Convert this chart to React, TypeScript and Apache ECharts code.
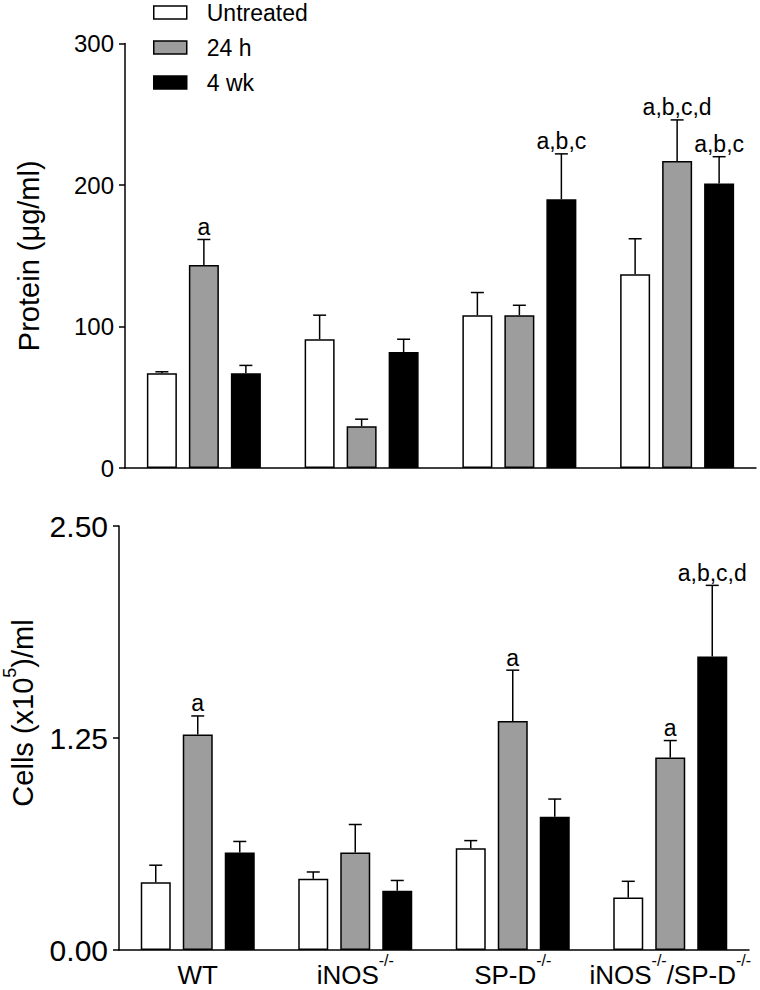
import React, { useEffect, useRef } from "react";
import * as echarts from "echarts";

const categories = ["WT", "iNOS-/-", "SP-D-/-", "iNOS-/-/SP-D-/-"];
const seriesNames = ["Untreated", "24 h", "4 wk"];

const proteinUntreated = [67, 91, 108, 137];
const proteinUntreatedErr = [1, 17, 16, 25];
const protein24h = [143.5, 29.5, 108, 217];
const protein24hErr = [18, 5, 7, 29];
const protein4wk = [67, 82, 190, 201];
const protein4wkErr = [5.5, 9, 32, 19];

const cellsUntreated = [0.4, 0.42, 0.6, 0.31];
const cellsUntreatedErr = [0.1, 0.04, 0.045, 0.095];
const cells24h = [1.27, 0.575, 1.35, 1.135];
const cells24hErr = [0.11, 0.165, 0.3, 0.1];
const cells4wk = [0.575, 0.35, 0.785, 1.73];
const cells4wkErr = [0.065, 0.06, 0.105, 0.42];

const proteinAnnotUntreated = ["", "", "", ""];
const proteinAnnot24h = ["a", "", "", "a,b,c,d"];
const proteinAnnot4wk = ["", "", "a,b,c", "a,b,c"];
const cellsAnnotUntreated = ["", "", "", ""];
const cellsAnnot24h = ["a", "", "a", "a"];
const cellsAnnot4wk = ["", "", "", "a,b,c,d"];

const proteinTicks = { min: 0, max: 300, interval: 100 };
const cellsTicks = { min: 0, max: 2.5, interval: 1.25 };

const FONT = "Liberation Sans";
const colors = ["#ffffff", "#9d9d9d", "#000000"];
const offsets = [-42, 0, 42];

function barSeries(name: string, vals: number[], idx: number, axis: number) {
  return {
    type: "bar",
    name,
    xAxisIndex: axis,
    yAxisIndex: axis,
    data: vals,
    barWidth: 30,
    barGap: "40%",
    itemStyle: { color: colors[idx], borderColor: "#000", borderWidth: 1.5 },
    silent: true,
  };
}

function errSeries(vals: number[], errs: number[], annots: string[], idx: number, axis: number) {
  return {
    type: "custom",
    xAxisIndex: axis,
    yAxisIndex: axis,
    silent: true,
    z: 5,
    data: vals.map((v, i) => [i, v, errs[i]]),
    encode: { x: 0, y: 1 },
    renderItem: (params: any, api: any) => {
      const i = api.value(0);
      const v = api.value(1);
      const e = api.value(2);
      const p0 = api.coord([i, v]);
      const p1 = api.coord([i, v + e]);
      const x = p0[0] + offsets[idx];
      const children: any[] = [
        { type: "line", shape: { x1: x, y1: p0[1], x2: x, y2: p1[1] }, style: { stroke: "#000", lineWidth: 1.5 } },
        { type: "line", shape: { x1: x - 6.5, y1: p1[1], x2: x + 6.5, y2: p1[1] }, style: { stroke: "#000", lineWidth: 1.5 } },
      ];
      const t = annots[params.dataIndex];
      if (t) {
        children.push({
          type: "text",
          style: {
            text: t,
            x,
            y: p1[1] - 1,
            align: "center",
            verticalAlign: "bottom",
            fontSize: 23,
            fontFamily: FONT,
            fill: "#000",
          },
        });
      }
      return { type: "group", children };
    },
  };
}

function yAxis(ticks: any, axisName: string, gridIndex: number, fontSize: number, nameGap: number, formatter: any, nameStyleExtra: any) {
  return {
    type: "value",
    gridIndex,
    min: ticks.min,
    max: ticks.max,
    interval: ticks.interval,
    name: axisName,
    nameLocation: "middle",
    nameGap,
    nameTextStyle: { fontSize: 29, fontFamily: FONT, color: "#000", ...nameStyleExtra },
    axisLine: { show: true, lineStyle: { color: "#000", width: 1.5 } },
    axisTick: { show: true, length: 6, lineStyle: { color: "#000", width: 1.5 } },
    axisLabel: { fontSize, fontFamily: FONT, color: "#000", margin: 11, formatter },
    splitLine: { show: false },
  };
}

export default function App() {
  const ref = useRef<HTMLDivElement>(null);
  useEffect(() => {
    document.body.style.margin = "0";
    const chart = echarts.init(ref.current!, null, { renderer: "svg" });
    const option: any = {
      animation: false,
      backgroundColor: "#fff",
      textStyle: { fontFamily: FONT },
      legend: {
        data: seriesNames,
        orient: "vertical",
        left: 153,
        top: 1,
        padding: 0,
        itemWidth: 33,
        itemHeight: 13,
        itemGap: 12,
        icon: "rect",
        selectedMode: false,
        textStyle: { fontSize: 23, fontFamily: FONT, color: "#000", padding: [0, 0, 0, 15] },
        itemStyle: { borderColor: "#000", borderWidth: 1.5 },
      },
      grid: [
        { left: 125, right: 4, top: 43.5, height: 424.5, outerBoundsMode: "none", containLabel: false },
        { left: 119, right: 11, top: 526, height: 424, outerBoundsMode: "none", containLabel: false },
      ],
      xAxis: [
        {
          type: "category",
          gridIndex: 0,
          data: categories,
          axisLine: { lineStyle: { color: "#000", width: 1.5 } },
          axisTick: { show: false },
          axisLabel: { show: false },
        },
        {
          type: "category",
          gridIndex: 1,
          data: categories,
          axisLine: { lineStyle: { color: "#000", width: 1.5 } },
          axisTick: { show: false },
          axisLabel: {
            interval: 0,
            margin: 2,
            fontFamily: FONT,
            fontSize: 26,
            formatter: (v: string) =>
              v
                .split("-/-")
                .map((s, i, arr) => (s ? `{n|${s}}` : "") + (i < arr.length - 1 ? "{sup|-/-}" : ""))
                .join(""),
            rich: {
              n: { fontSize: 26, fontFamily: FONT, color: "#000", verticalAlign: "bottom", lineHeight: 36 },
              sup: { fontSize: 16, fontFamily: FONT, color: "#000", verticalAlign: "top", lineHeight: 16 },
            },
          },
        },
      ],
      yAxis: [
        yAxis(proteinTicks, "Protein (μg/ml)", 0, 24, 82, (v: number) => String(v), {}),
        yAxis(
          cellsTicks,
          "{n|Cells (x10}{sup|5}{n|)/ml}",
          1,
          30,
          82,
          (v: number) => v.toFixed(2),
          {
            padding: [0, 0, 0, 50],
            rich: {
              n: { fontSize: 29, fontFamily: FONT, color: "#000", verticalAlign: "bottom", lineHeight: 36 },
              sup: { fontSize: 18, fontFamily: FONT, color: "#000", verticalAlign: "top", lineHeight: 18 },
            },
          }
        ),
      ],
      series: [
        barSeries(seriesNames[0], proteinUntreated, 0, 0),
        barSeries(seriesNames[1], protein24h, 1, 0),
        barSeries(seriesNames[2], protein4wk, 2, 0),
        errSeries(proteinUntreated, proteinUntreatedErr, proteinAnnotUntreated, 0, 0),
        errSeries(protein24h, protein24hErr, proteinAnnot24h, 1, 0),
        errSeries(protein4wk, protein4wkErr, proteinAnnot4wk, 2, 0),
        barSeries(seriesNames[0], cellsUntreated, 0, 1),
        barSeries(seriesNames[1], cells24h, 1, 1),
        barSeries(seriesNames[2], cells4wk, 2, 1),
        errSeries(cellsUntreated, cellsUntreatedErr, cellsAnnotUntreated, 0, 1),
        errSeries(cells24h, cells24hErr, cellsAnnot24h, 1, 1),
        errSeries(cells4wk, cells4wkErr, cellsAnnot4wk, 2, 1),
      ],
    };
    chart.setOption(option);
    return () => chart.dispose();
  }, []);
  return <div ref={ref} style={{ width: 760, height: 990 }} />;
}
